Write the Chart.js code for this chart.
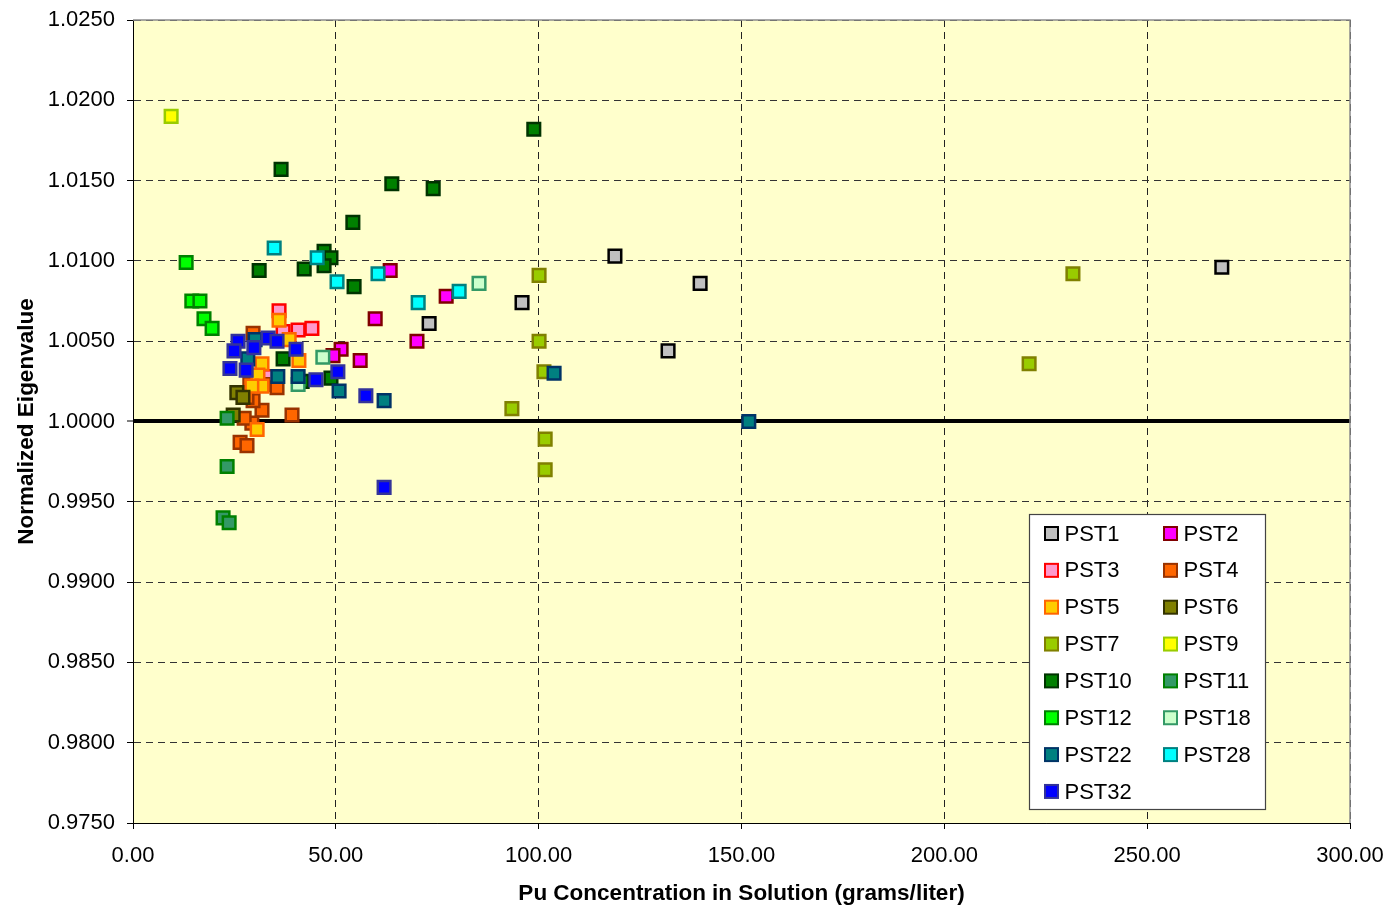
<!DOCTYPE html>
<html>
<head>
<meta charset="utf-8">
<script src="https://cdn.jsdelivr.net/npm/chart.js@4.4.1/dist/chart.umd.min.js"></script>
<style>
  html, body { margin: 0; padding: 0; background: #ffffff; }
  #wrap { width: 1388px; height: 907px; position: relative; }
</style>
</head>
<body>
<div id="wrap"><canvas id="c" width="1388" height="907"></canvas></div>
<script>
// Axis tick values
const xTickValues = [0, 50, 100, 150, 200, 250, 300];
const yTickValues = [0.975, 0.980, 0.985, 0.990, 0.995, 1.000, 1.005, 1.010, 1.015, 1.020, 1.025];

// Series names (legend order)
const seriesNames = ['PST1', 'PST2', 'PST3', 'PST4', 'PST5', 'PST6', 'PST7', 'PST9',
                     'PST10', 'PST11', 'PST12', 'PST18', 'PST22', 'PST28', 'PST32'];

// [Pu concentration (g/L), normalized eigenvalue]
const PST1  = [[118.8, 1.0103], [139.8, 1.0086], [131.9, 1.0044], [95.9, 1.0074], [73.0, 1.0061], [268.4, 1.0096]];
const PST2  = [[63.4, 1.0094], [77.2, 1.0078], [59.7, 1.0064], [70.0, 1.0050], [56.0, 1.0038], [51.3, 1.0045], [49.3, 1.0041]];
const PST3  = [[36.0, 1.0069], [44.1, 1.0058], [40.7, 1.0057], [37.0, 1.0056], [33.3, 1.0028]];
const PST4  = [[29.6, 1.0055], [35.5, 1.0021], [31.8, 1.0007], [39.2, 1.0004], [26.4, 0.9987], [28.1, 0.9985],
               [29.3, 0.9999], [27.4, 1.0002], [29.6, 1.0013], [28.8, 1.0023], [28.1, 1.0015], [32.0, 1.0023]];
const PST5  = [[36.0, 1.0063], [38.5, 1.0051], [40.9, 1.0038], [31.8, 1.0036], [30.8, 1.0029], [31.8, 1.0022],
               [29.3, 1.0022], [30.6, 0.9995]];
const PST6  = [[25.6, 1.0018], [27.1, 1.0015], [24.7, 1.0004]];
const PST7  = [[100.1, 1.0091], [100.1, 1.0050], [101.3, 1.0031], [93.4, 1.0008], [101.6, 0.9989], [101.6, 0.9970],
               [231.7, 1.0092], [220.9, 1.0036]];
const PST9  = [[9.4, 1.0190]];
const PST10 = [[98.8, 1.0182], [36.5, 1.0157], [63.8, 1.0148], [74.0, 1.0145], [54.2, 1.0124], [31.1, 1.0094],
               [42.2, 1.0095], [47.1, 1.0106], [48.8, 1.0102], [47.1, 1.0097], [54.5, 1.0084], [37.0, 1.0039],
               [48.8, 1.0027], [41.7, 1.0025]];
const PST11 = [[23.2, 1.0002], [23.2, 0.9972], [22.2, 0.9940], [23.7, 0.9937]];
const PST12 = [[13.1, 1.0099], [14.5, 1.0075], [16.5, 1.0075], [17.5, 1.0064], [19.5, 1.0058]];
const PST18 = [[85.3, 1.0086], [46.8, 1.0040], [40.7, 1.0023]];
const PST22 = [[103.8, 1.0030], [151.8, 1.0000], [61.9, 1.0013], [50.8, 1.0019], [40.7, 1.0028], [35.7, 1.0028],
               [28.3, 1.0039], [30.1, 1.0051]];
const PST28 = [[34.8, 1.0108], [45.4, 1.0102], [50.3, 1.0087], [60.4, 1.0092], [70.3, 1.0074], [80.4, 1.0081]];
const PST32 = [[25.9, 1.0050], [24.9, 1.0044], [29.8, 1.0046], [33.3, 1.0052], [35.5, 1.0050], [40.2, 1.0045],
               [23.9, 1.0033], [27.9, 1.0032], [45.1, 1.0026], [50.5, 1.0031], [57.4, 1.0016], [61.9, 0.9959]];

const seriesData = [PST1, PST2, PST3, PST4, PST5, PST6, PST7, PST9, PST10, PST11, PST12, PST18, PST22, PST28, PST32];

// Marker fill / outline colours per series
const fillColors = ['#C0C0C0', '#FF00FF', '#FF99CC', '#FF6600', '#FFCC00', '#808000', '#99CC00', '#FFFF00',
                    '#008000', '#339966', '#00FF00', '#CCFFCC', '#008080', '#00FFFF', '#0000FF'];
const edgeColors = ['#000000', '#800000', '#FF0000', '#993300', '#FF6600', '#333300', '#808000', '#99CC00',
                    '#003300', '#008000', '#008000', '#339966', '#003366', '#008080', '#333399'];

const FONT = '"Liberation Sans", Arial, Helvetica, sans-serif';

const datasets = seriesNames.map((name, i) => ({
  label: name,
  data: seriesData[i].map(([x, y]) => ({ x, y })),
  backgroundColor: fillColors[i],
  borderColor: edgeColors[i],
  pointStyle: 'rect',
  pointRadius: 8.9,
  pointHoverRadius: 8.9,
  borderWidth: 2.5,
  pointBorderWidth: 2.5,
  showLine: false,
  order: seriesNames.length - i   // later series sit on top
}));

const isUnity = v => Math.abs(v - 1) < 1e-9;

// Pale plot-area fill and grey frame on top/right
const plotFrame = {
  id: 'plotFrame',
  beforeDraw(chart) {
    const { ctx, chartArea: a } = chart;
    ctx.save();
    ctx.fillStyle = '#FFFFCC';
    ctx.fillRect(a.left, a.top, a.right - a.left, a.bottom - a.top);
    ctx.restore();
  },
  afterDatasetsDraw(chart) {
    const { ctx, chartArea: a } = chart;
    ctx.save();
    ctx.strokeStyle = '#8C8C8C';
    ctx.lineWidth = 1.5;
    ctx.beginPath();
    ctx.moveTo(a.left, a.top);
    ctx.lineTo(a.right, a.top);
    ctx.lineTo(a.right, a.bottom);
    ctx.stroke();
    ctx.restore();
  }
};

// Two-column boxed legend inside the plot area
const boxLegend = {
  id: 'boxLegend',
  afterDraw(chart) {
    const { ctx } = chart;
    const box = { x: 1029, y: 514, w: 236, h: 295 };
    ctx.save();
    ctx.fillStyle = '#FFFFFF';
    ctx.fillRect(box.x, box.y, box.w, box.h);
    ctx.strokeStyle = '#444444';
    ctx.lineWidth = 1.2;
    ctx.strokeRect(box.x + 0.5, box.y + 0.5, box.w, box.h);
    const colX = [1051.5, 1170.5];
    const rowY0 = 533.5, rowStep = 36.85;
    ctx.font = '22px ' + FONT;
    ctx.textBaseline = 'middle';
    ctx.textAlign = 'left';
    chart.data.datasets.forEach((ds, i) => {
      const cx = colX[i % 2];
      const cy = rowY0 + Math.floor(i / 2) * rowStep;
      ctx.fillStyle = ds.backgroundColor;
      ctx.fillRect(cx - 6.5, cy - 6.5, 13, 13);
      ctx.strokeStyle = ds.borderColor;
      ctx.lineWidth = 2;
      ctx.strokeRect(cx - 6.5, cy - 6.5, 13, 13);
      ctx.fillStyle = '#000000';
      ctx.fillText(ds.label, cx + 13, cy + 1);
    });
    ctx.restore();
  }
};

new Chart(document.getElementById('c'), {
  type: 'scatter',
  data: { datasets },
  plugins: [plotFrame, boxLegend],
  options: {
    responsive: false,
    devicePixelRatio: 1,
    animation: false,
    layout: { padding: { left: 0, right: 38, top: 20, bottom: 0 } },
    plugins: {
      legend: { display: false },
      tooltip: { enabled: false },
      title: { display: false }
    },
    scales: {
      x: {
        type: 'linear',
        min: 0,
        max: 300,
        afterBuildTicks: s => { s.ticks = xTickValues.map(v => ({ value: v })); },
        afterFit: s => { s.height = 84; s.paddingLeft = 0; s.paddingRight = 0; },
        grid: {
          color: '#222222',
          lineWidth: 1,
          drawTicks: true,
          tickLength: 6,
          tickColor: '#000000',
          tickBorderDash: [],
          tickWidth: 1
        },
        border: { display: true, color: '#000000', width: 1, dash: [7, 5] },
        ticks: {
          color: '#000000',
          font: { family: FONT, size: 22 },
          padding: 14,
          maxRotation: 0,
          callback: v => Number(v).toFixed(2)
        },
        title: {
          display: true,
          text: 'Pu Concentration in Solution (grams/liter)',
          color: '#000000',
          font: { family: FONT, size: 22.5, weight: 'bold' },
          padding: { top: 0, bottom: 0 }
        }
      },
      y: {
        type: 'linear',
        min: 0.975,
        max: 1.025,
        afterBuildTicks: s => { s.ticks = yTickValues.map(v => ({ value: v })); },
        afterFit: s => { s.width = 133; s.paddingTop = 0; s.paddingBottom = 0; },
        grid: {
          color: ctx => (ctx.tick && isUnity(ctx.tick.value)) ? '#000000' : '#333333',
          lineWidth: ctx => (ctx.tick && isUnity(ctx.tick.value)) ? 4 : 1,
          drawTicks: true,
          tickLength: 6,
          tickColor: '#000000',
          tickBorderDash: [],
          tickWidth: 1
        },
        border: {
          display: true,
          color: '#000000',
          width: 1,
          dash: ctx => (ctx.tick && isUnity(ctx.tick.value)) ? [] : [7, 5]
        },
        ticks: {
          color: '#000000',
          font: { family: FONT, size: 22 },
          padding: 12,
          callback: v => Number(v).toFixed(4)
        },
        title: {
          display: true,
          text: 'Normalized Eigenvalue',
          color: '#000000',
          font: { family: FONT, size: 22.5, weight: 'bold' },
          padding: { top: 13, bottom: 0 }
        }
      }
    }
  }
});
</script>
</body>
</html>
